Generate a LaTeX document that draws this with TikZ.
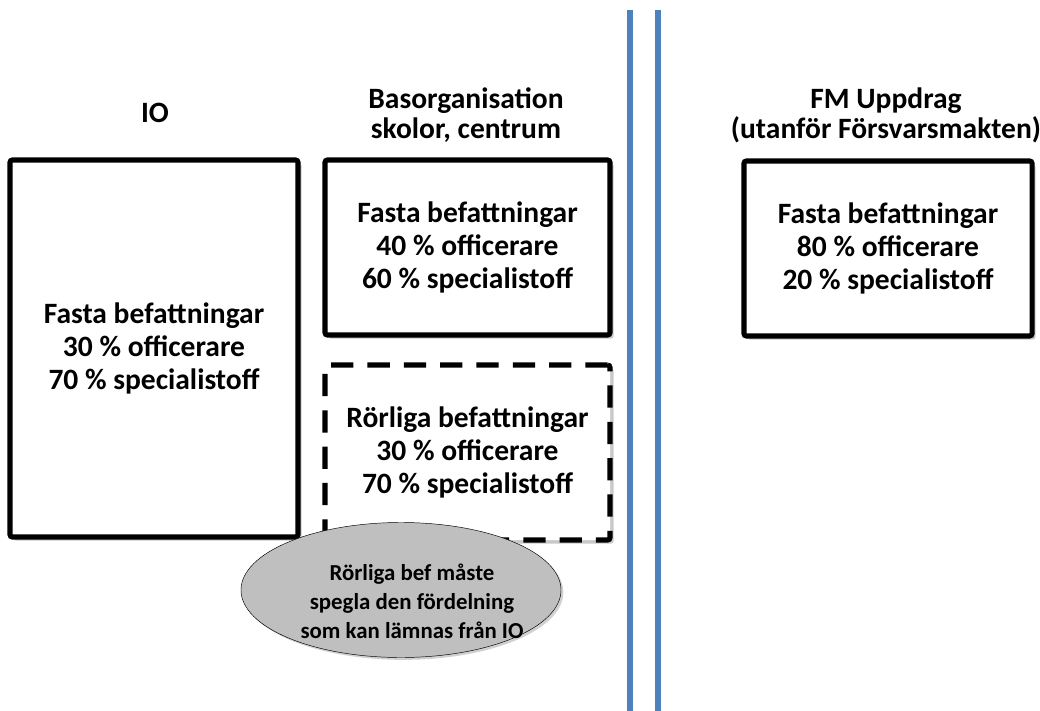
\documentclass[tikz,border=0pt]{standalone}
\usepackage{fontspec}
\setmainfont{Carlito}
\usetikzlibrary{shapes.geometric,shadows}

\begin{document}
\begin{tikzpicture}[x=0.03cm, y=-0.03cm,
  font=\bfseries\fontsize{25.2}{28}\selectfont,
  box/.style={draw, line width=4.3pt, rounded corners=2pt, fill=white, align=center,
    drop shadow={shadow xshift=3pt, shadow yshift=-3pt, fill=gray!60, opacity=0.7}},
  movebox/.style={box, dash pattern=on 19pt off 12pt},
  heading/.style={align=center, font=\bfseries\fontsize{25.2}{25.6}\selectfont},
  note/.style={ellipse, draw, thin, fill=black!25, inner sep=0pt,
    minimum width=9.6cm, minimum height=4.05cm,
    drop shadow={shadow xshift=2pt, shadow yshift=-2pt, fill=gray!60, opacity=0.6}},
  notetext/.style={align=center, font=\bfseries\fontsize{19.5}{24.7}\selectfont},
  divider/.style={line width=4.3pt, color={rgb,255:red,79;green,129;blue,189}}]
\useasboundingbox (0,0) rectangle (1040,711);

\node[heading] (tio) at (155,113) {IO};
\node[heading] (tbas) at (466,115) {Basorganisation\\skolor, centrum};
\node[heading] (tfm) at (886,115) {FM Uppdrag\\(utanför Försvarsmakten)};

\node[box, minimum width=8.64cm, minimum height=11.31cm] (io) at (154,348.5)
  {Fasta befattningar\\30 \% officerare\\70 \% specialistoff};
\node[box, minimum width=8.55cm, minimum height=5.25cm] (fasta) at (467.5,247.5)
  {Fasta befattningar\\40 \% officerare\\60 \% specialistoff};
\node[movebox, minimum width=8.55cm, minimum height=5.25cm] (rorliga) at (467.5,452.5)
  {Rörliga befattningar\\30 \% officerare\\70 \% specialistoff};
\node[box, minimum width=8.64cm, minimum height=5.25cm] (fm) at (888,248.5)
  {Fasta befattningar\\80 \% officerare\\20 \% specialistoff};

\node[note] (krav) at (401,590) {};
\node[notetext] (kravtext) at (412,601) {Rörliga bef måste\\spegla den fördelning\\som kan lämnas från IO};

\coordinate (l1top) at (630,10);
\coordinate (l1bot) at (630,711);
\coordinate (l2top) at (658,10);
\coordinate (l2bot) at (658,711);
\draw[divider] (l1top) -- (l1bot);
\draw[divider] (l2top) -- (l2bot);
\end{tikzpicture}
\end{document}
